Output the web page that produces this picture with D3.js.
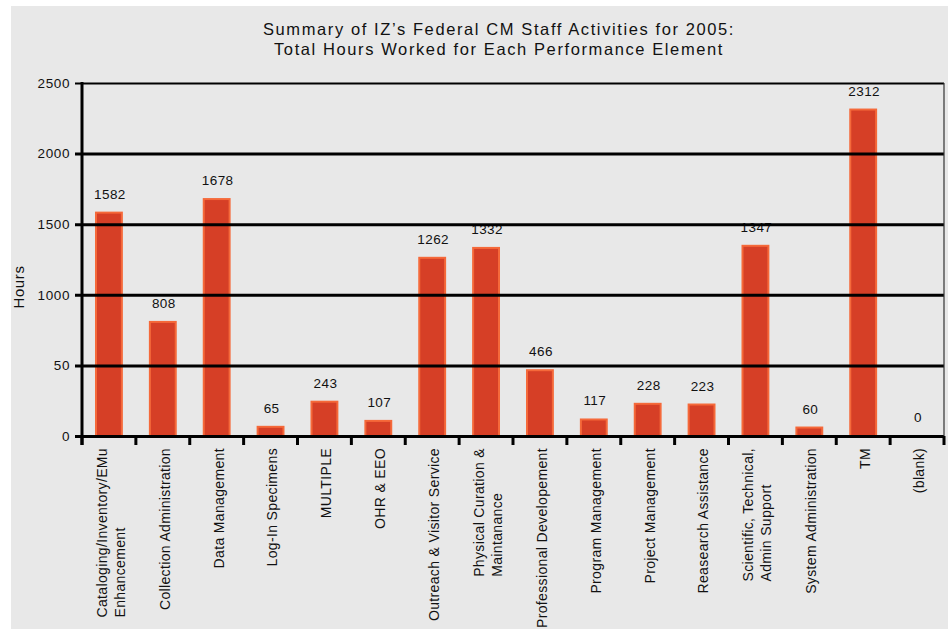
<!DOCTYPE html>
<html>
<head>
<meta charset="utf-8">
<script src="https://cdn.jsdelivr.net/npm/d3@7"></script>
<style>
  html, body { margin: 0; padding: 0; background: #ffffff; }
  svg { display: block; }
  text { font-family: "Liberation Sans", Arial, Helvetica, sans-serif; fill: #111; }
</style>
</head>
<body>
<svg id="chart" width="948" height="629"></svg>
<script>
const titleLines = ["Summary of IZ\u2019s Federal CM Staff Activities for 2005:", "Total Hours Worked for Each Performance Element"];
const yAxisTitle = "Hours";
const categories = [
  ["Cataloging/Inventory/EMu", "Enhancement"],
  ["Collection Administration"],
  ["Data Management"],
  ["Log-In Specimens"],
  ["MULTIPLE"],
  ["OHR & EEO"],
  ["Outreach & Visitor Service"],
  ["Physical Curation &", "Maintanance"],
  ["Professional Developement"],
  ["Program Management"],
  ["Project Management"],
  ["Reasearch Assistance"],
  ["Scientific, Technical,", "Admin Support"],
  ["System Administration"],
  ["TM"],
  ["(blank)"]
];
const hours = [1582, 808, 1678, 65, 243, 107, 1262, 1332, 466, 117, 228, 223, 1347, 60, 2312, 0];
const yTickValues = [0, 500, 1000, 1500, 2000, 2500];
const yTickLabels = ["0", "50", "1000", "1500", "2000", "2500"];

const svg = d3.select("#chart");
const W = 948, H = 629;
const plot = { left: 82, right: 944, top: 83, bottom: 436 };

// background panel
svg.append("rect").attr("x", 0).attr("y", 0).attr("width", W).attr("height", H).attr("fill", "#ffffff");
svg.append("rect").attr("x", 11).attr("y", 6).attr("width", W - 11).attr("height", H - 6).attr("fill", "#e8e8e8");

const keys = categories.map((c, i) => String(i));
const x = d3.scaleBand().domain(keys).range([plot.left, plot.right]).paddingInner(0).paddingOuter(0);
const y = d3.scaleLinear().domain([0, 2500]).range([plot.bottom, plot.top]);
const bw = x.bandwidth();

// title
const title = svg.append("g");
titleLines.forEach((t, i) => {
  title.append("text")
    .attr("x", 499).attr("y", 35 + i * 20)
    .attr("text-anchor", "middle")
    .style("font-size", "16.5px")
    .style("letter-spacing", "1.6px")
    .text(t);
});

// bars
svg.append("g").selectAll("rect").data(hours).join("rect")
  .attr("x", (d, i) => x(keys[i]) + bw * 0.26)
  .attr("y", d => y(d))
  .attr("width", bw * 0.48)
  .attr("height", d => y(0) - y(d))
  .attr("fill", "#d63f26")
  .attr("stroke", "#f5693a")
  .attr("stroke-width", 2);

// value labels
svg.append("g").selectAll("text").data(hours).join("text")
  .attr("x", (d, i) => x(keys[i]) + bw / 2 + 1)
  .attr("y", d => y(d) - 14)
  .attr("text-anchor", "middle")
  .style("font-size", "13.5px")
  .style("letter-spacing", "0.4px")
  .text(d => d);

// y axis via d3 axis
const yAxis = d3.axisLeft(y).tickValues(yTickValues)
  .tickFormat((d, i) => yTickLabels[i])
  .tickSize(plot.right - plot.left + 7).tickPadding(5);
const yg = svg.append("g").attr("transform", `translate(${plot.right},0)`).call(yAxis);
yg.select(".domain").remove();
yg.selectAll(".tick line")
  .attr("stroke", "#000")
  .attr("stroke-width", d => d === 2500 ? 2 : 3);
yg.selectAll(".tick text")
  .style("font-size", "13.5px")
  .style("letter-spacing", "0.6px")
  .style("font-family", "'Liberation Sans', Arial, sans-serif")
  .attr("fill", "#111");

// right border
svg.append("line").attr("x1", plot.right).attr("x2", plot.right)
  .attr("y1", plot.top).attr("y2", plot.bottom)
  .attr("stroke", "#333").attr("stroke-width", 1.2);

// left axis line
svg.append("line").attr("x1", plot.left).attr("x2", plot.left)
  .attr("y1", plot.top - 1).attr("y2", plot.bottom + 9)
  .attr("stroke", "#000").attr("stroke-width", 3);

// x ticks at band boundaries
const bounds = keys.map(k => x(k)).concat([plot.right]);
svg.append("g").selectAll("line").data(bounds).join("line")
  .attr("x1", d => d).attr("x2", d => d)
  .attr("y1", plot.bottom).attr("y2", plot.bottom + 9)
  .attr("stroke", "#000").attr("stroke-width", 3);

// x labels
const xl = svg.append("g");
categories.forEach((lines, i) => {
  const cx = x(keys[i]) + bw / 2 + 2;
  const g = xl.append("g");
  const n = lines.length;
  const texts = lines.map((t, j) => {
    const off = (j - (n - 1) / 2) * 18;
    return g.append("text")
      .style("font-size", "14px")
      .style("letter-spacing", "0.35px")
      .attr("dy", "0.35em")
      .text(t)
      .datum(off);
  });
  if (n === 1) {
    texts[0].attr("text-anchor", "end")
      .attr("transform", `translate(${cx},448) rotate(-90)`);
  } else {
    const maxLen = d3.max(texts, t => t.node().getComputedTextLength());
    texts.forEach(t => {
      t.attr("text-anchor", "start")
       .attr("transform", `translate(${cx + t.datum()},${448 + maxLen}) rotate(-90)`);
    });
  }
});

// y axis title
svg.append("text")
  .attr("transform", "translate(19,287) rotate(-90)")
  .attr("text-anchor", "middle")
  .attr("dy", "0.35em")
  .style("font-size", "15px")
  .style("letter-spacing", "0.6px")
  .text(yAxisTitle);
</script>
</body>
</html>
